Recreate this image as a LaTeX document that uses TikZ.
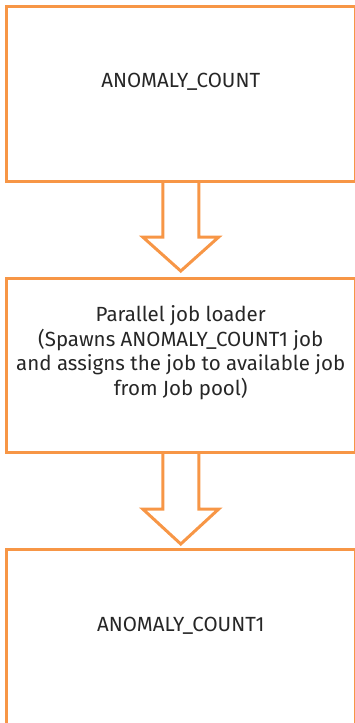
\documentclass[tikz,border=0pt]{standalone}
\usepackage{fontspec}
\setmainfont{Fira Sans}
\usetikzlibrary{calc}
\definecolor{boxorange}{HTML}{F79646}
\definecolor{txt}{HTML}{262626}
\tikzset{
  box/.style={draw=boxorange, line width=3pt, rectangle, inner sep=0pt, outer sep=0pt, minimum width=348.5pt},
  lbl/.style={text=txt, font=\fontsize{20.5}{24.6}\selectfont, align=center, inner sep=0pt},
  blockarrow/.style={draw=boxorange, line width=3pt, line join=miter}
}
\begin{document}
\begin{tikzpicture}[x=1pt,y=-1pt]
\useasboundingbox (0,0) rectangle (354,723);
\node[box, minimum height=175pt] (b1) at (180.75,93.5) {};
\node[box, minimum height=174pt] (b2) at (180.75,365) {};
\node[box, minimum height=175pt] (b3) at (180.75,636.5) {};
\node[lbl, anchor=base] (t1) at (180.75,87) {ANOMALY\_COUNT};
\node[lbl] (t2) at (180.75,352.6) {Parallel job loader\\(Spawns ANOMALY\_COUNT1 job\\and assigns the job to available job\\from Job pool)};
\node[lbl, anchor=base] (t3) at (180.75,631) {ANOMALY\_COUNT1};
\draw[blockarrow] ($(b1.south)+(-18,0)$) -- ++(0,56) -- ++(-20,0) -- ($(b2.north)+(0,-7)$) -- ($(b1.south)+(38,56)$) -- ++(-20,0) -- ($(b1.south)+(18,0)$);
\draw[blockarrow] ($(b2.south)+(-18,0)$) -- ++(0,57) -- ++(-20,0) -- ($(b3.north)+(0,-5)$) -- ($(b2.south)+(38,57)$) -- ++(-20,0) -- ($(b2.south)+(18,0)$);
\end{tikzpicture}
\end{document}
